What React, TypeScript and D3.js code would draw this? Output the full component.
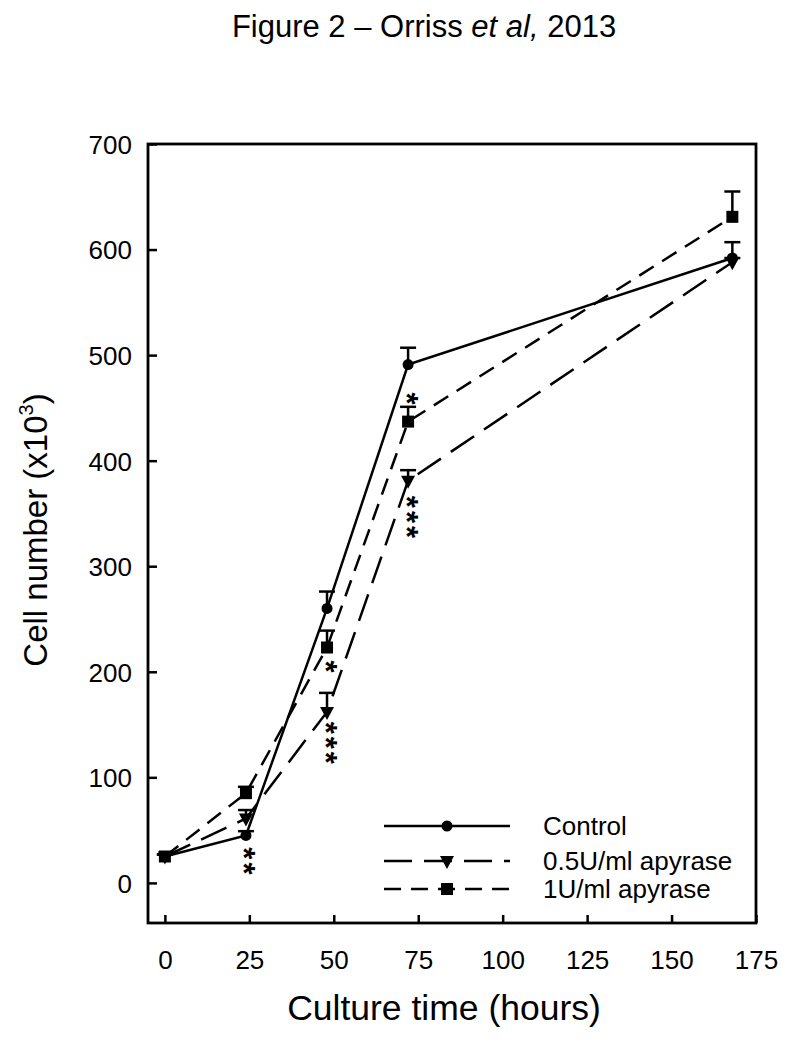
import * as React from "react";
import * as d3 from "d3";

// culture time points (hours)
const hours = [0, 24, 48, 72, 168];

// cell number (x10^3), mean and upper error
const controlMean = [25, 45, 260, 491, 592];
const controlErr = [2, 4, 16, 16, 15];
const apy05Mean = [25, 61, 162, 381, 588];
const apy05Err = [2, 8, 18, 10, 4];
const apy1Mean = [25, 85, 223, 437, 631];
const apy1Err = [2, 6, 16, 14, 24];

const seriesNames = ["Control", "0.5U/ml apyrase", "1U/ml apyrase"];

const xTicks = [0, 25, 50, 75, 100, 125, 150, 175];
const yTicks = [0, 100, 200, 300, 400, 500, 600, 700];

// significance stars: time, value of the first star, the stars
const starHours = [24, 48, 48, 72, 72];
const starValues = [28, 205, 147, 459, 361];
const starLabels = ["**", "*", "***", "*", "***"];

const FONT = "'Liberation Sans', Arial, Helvetica, sans-serif";

function drawChart(svgEl) {
  const svg = d3.select(svgEl);
  svg.selectAll("*").remove();

  const x = d3.scaleLinear().domain([-5, 175]).range([148, 756]);
  const y = d3.scaleLinear().domain([-38, 700]).range([923, 144]);

  svg.append("text")
    .attr("x", 424)
    .attr("y", 37)
    .attr("text-anchor", "middle")
    .attr("font-size", 31)
    .attr("font-family", FONT)
    .call(t => {
      t.append("tspan").text("Figure 2 \u2013 Orriss ");
      t.append("tspan").attr("font-style", "italic").text("et al,");
      t.append("tspan").text(" 2013");
    });

  // axes, ticks pointing inwards
  const yAxis = d3.axisLeft(y).tickValues(yTicks).tickSizeInner(-9).tickSizeOuter(0).tickPadding(16);
  const xAxis = d3.axisBottom(x).tickValues(xTicks).tickSizeInner(-8).tickSizeOuter(0).tickPadding(28);

  const gy = svg.append("g").attr("transform", "translate(148,0)").call(yAxis);
  const gx = svg.append("g").attr("transform", "translate(0,923)").call(xAxis);
  [gx, gy].forEach(g => {
    g.select(".domain").remove();
    g.selectAll(".tick line").attr("stroke", "#000").attr("stroke-width", 2.5);
    g.selectAll(".tick text")
      .attr("font-size", 26)
      .attr("font-family", FONT)
      .attr("fill", "#000");
  });
  gy.selectAll(".tick text").attr("dy", "0.36em");

  // frame
  svg.append("rect")
    .attr("x", 148).attr("y", 144)
    .attr("width", 756 - 148).attr("height", 923 - 144)
    .attr("fill", "none").attr("stroke", "#000").attr("stroke-width", 2.8);

  svg.append("text")
    .attr("x", 444)
    .attr("y", 1020)
    .attr("text-anchor", "middle")
    .attr("font-size", 35.5)
    .attr("font-family", FONT)
    .text("Culture time (hours)");

  svg.append("text")
    .attr("transform", "translate(47,530) rotate(-90)")
    .attr("text-anchor", "middle")
    .attr("font-size", 33)
    .attr("font-family", FONT)
    .call(t => {
      t.append("tspan").text("Cell number (x10");
      t.append("tspan").attr("font-size", 20).attr("dy", -14).text("3");
      t.append("tspan").attr("dy", 14).text(")");
    });

  const series = [
    { name: seriesNames[0], mean: controlMean, err: controlErr, dash: null, marker: "circle" },
    { name: seriesNames[1], mean: apy05Mean, err: apy05Err, dash: "28,12", marker: "triangle" },
    { name: seriesNames[2], mean: apy1Mean, err: apy1Err, dash: "17,10", marker: "square" }
  ];

  const line = d3.line().x(d => x(d[0])).y(d => y(d[1]));

  const drawMarker = (g, kind, cx, cy) => {
    if (kind === "circle") {
      g.append("circle").attr("cx", cx).attr("cy", cy).attr("r", 5.5).attr("fill", "#000");
    } else if (kind === "square") {
      g.append("rect").attr("x", cx - 6).attr("y", cy - 6).attr("width", 12).attr("height", 12).attr("fill", "#000");
    } else {
      g.append("path")
        .attr("d", `M${cx - 7},${cy - 5}L${cx + 7},${cy - 5}L${cx},${cy + 8}Z`)
        .attr("fill", "#000");
    }
  };

  series.forEach(s => {
    const g = svg.append("g");
    const pts = hours.map((h, i) => [h, s.mean[i]]);
    g.append("path")
      .attr("d", line(pts))
      .attr("fill", "none")
      .attr("stroke", "#000")
      .attr("stroke-width", 2.5)
      .attr("stroke-dasharray", s.dash);
    // upper error bars
    hours.forEach((h, i) => {
      const top = y(s.mean[i] + s.err[i]);
      g.append("line").attr("x1", x(h)).attr("x2", x(h)).attr("y1", y(s.mean[i])).attr("y2", top)
        .attr("stroke", "#000").attr("stroke-width", 2.5);
      g.append("line").attr("x1", x(h) - 8).attr("x2", x(h) + 8).attr("y1", top).attr("y2", top)
        .attr("stroke", "#000").attr("stroke-width", 2.5);
    });
    hours.forEach((h, i) => drawMarker(g, s.marker, x(h), y(s.mean[i])));
  });

  // significance stars, stacked vertically as one rotated text
  starHours.forEach((h, i) => {
    svg.append("text")
      .attr("transform", `translate(${x(h) + 5 - 17.5},${y(starValues[i]) - 6}) rotate(90)`)
      .attr("font-size", 31)
      .attr("font-weight", "bold")
      .attr("letter-spacing", 3)
      .attr("font-family", FONT)
      .text(starLabels[i]);
  });

  // legend
  const legendY = [826, 861, 889];
  series.forEach((s, i) => {
    const g = svg.append("g");
    g.append("line")
      .attr("x1", 384).attr("x2", 510).attr("y1", legendY[i]).attr("y2", legendY[i])
      .attr("stroke", "#000").attr("stroke-width", 2.5)
      .attr("stroke-dasharray", s.dash);
    drawMarker(g, s.marker, 447, legendY[i]);
    g.append("text")
      .attr("x", 543)
      .attr("y", legendY[i])
      .attr("dy", "0.36em")
      .attr("font-size", 26)
      .attr("font-family", FONT)
      .text(s.name);
  });
}

const Chart = () => {
  const svg = React.useRef(null);
  React.useEffect(() => {
    drawChart(svg.current);
  }, [svg]);

  return (
    <svg
      ref={svg}
      width={786}
      height={1044}
      style={{ position: "absolute", left: 0, top: 0, background: "#fff" }}
    ></svg>
  );
};

export default Chart;
